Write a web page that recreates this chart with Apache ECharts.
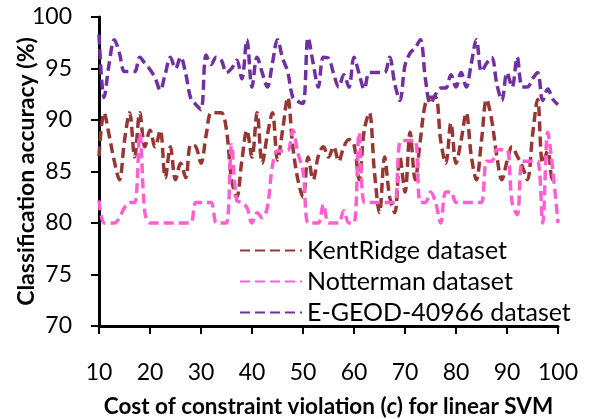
<!DOCTYPE html>
<html>
<head>
<meta charset="utf-8">
<script src="https://cdn.jsdelivr.net/npm/echarts@6/dist/echarts.min.js"></script>
<style>html,body{margin:0;padding:0;background:#fff}#c{width:589px;height:419px}</style>
</head>
<body>
<div id="c"></div>
<script>
const xValues = [10,11,12,13,14,15,16,17,18,19,20,21,22,23,24,25,26,27,28,29,30,31,32,33,34,35,36,37,38,39,40,41,42,43,44,45,46,47,48,49,50,51,52,53,54,55,56,57,58,59,60,61,62,63,64,65,66,67,68,69,70,71,72,73,74,75,76,77,78,79,80,81,82,83,84,85,86,87,88,89,90,91,92,93,94,95,96,97,98,99,100];
const kentRidge = [86.5,90.7,88.5,86.0,84.2,88.0,90.7,86.4,90.7,87.4,89.0,87.4,89.0,84.4,87.4,84.2,85.8,84.4,87.6,87.4,85.8,88.5,90.7,90.7,90.7,89.0,84.2,82.5,86.0,89.0,86.4,90.7,85.8,88.5,90.7,86.1,89.0,92.2,87.4,84.2,82.5,86.4,84.2,86.5,87.4,86.4,87.4,86.0,87.4,88.1,87.6,84.2,89.0,90.7,85.0,81.0,86.4,82.5,81.0,86.4,83.0,88.8,84.2,88.0,91.6,92.2,92.2,88.0,85.8,89.7,85.8,88.0,90.7,86.5,84.2,88.0,92.0,90.0,86.5,84.2,86.0,87.4,86.5,85.5,84.2,88.5,92.0,85.8,87.0,84.2,84.2];
const notterman = [82.2,80.0,80.0,80.0,80.5,81.5,82.0,82.0,88.7,81.0,80.0,80.0,80.0,80.0,80.0,80.0,80.0,80.0,80.0,82.0,82.0,82.0,82.0,80.0,80.0,80.0,87.6,82.2,82.0,81.5,80.0,81.0,80.5,81.5,85.5,87.0,87.0,87.0,89.0,86.8,85.0,80.0,80.0,80.0,81.8,80.0,80.0,80.0,81.2,80.0,80.0,88.8,82.0,82.0,82.0,82.0,82.0,82.0,82.0,87.9,88.0,88.0,88.0,82.0,82.0,83.0,82.0,80.0,83.0,83.0,82.0,82.0,82.0,82.0,82.0,82.0,86.0,86.0,87.1,87.1,87.1,82.0,80.8,86.0,86.0,86.0,86.0,80.0,88.8,85.0,80.0];
const egeod = [98.3,92.2,95.5,97.8,96.5,94.7,94.7,94.7,96.1,95.5,94.9,94.1,92.9,94.5,96.1,95.0,96.1,94.5,92.1,91.5,91.0,96.3,95.4,96.1,95.8,94.6,95.0,95.8,94.0,97.8,93.2,96.1,94.6,93.2,95.5,97.8,96.0,94.7,92.2,91.8,91.6,98.0,95.5,93.2,96.1,96.0,94.5,93.2,94.4,93.2,96.1,94.5,93.0,94.6,94.6,94.6,94.6,96.1,93.5,91.9,95.3,96.5,97.0,97.8,94.0,91.6,92.5,93.1,93.1,94.4,93.2,94.6,93.2,95.5,97.8,94.7,95.5,96.1,93.5,91.9,94.6,93.2,96.1,93.2,93.2,94.0,94.6,91.9,93.0,92.0,91.5];
const seriesNames = ['KentRidge dataset','Notterman dataset','E-GEOD-40966 dataset'];
const seriesColors = ['#953735','#FF5FD0','#7030A0'];
const yTicks = [70,75,80,85,90,95,100];
const xTicks = [10,20,30,40,50,60,70,80,90,100];

const font = 'Lato, "Open Sans", sans-serif';
const allData = [kentRidge, notterman, egeod];
const chart = echarts.init(document.getElementById('c'), null, {renderer:'canvas'});
chart.setOption({
  animation: false,
  backgroundColor: '#fff',
  grid: {left: 99, right: 31, top: 17, bottom: 93, containLabel: false, outerBoundsMode: 'none'},
  xAxis: {
    type: 'value', min: xTicks[0], max: xTicks[xTicks.length-1], interval: 10,
    name: 'Cost of constraint violation ({i|c}) for linear SVM',
    nameLocation: 'middle', nameGap: 69,
    nameTextStyle: {fontFamily: font, fontWeight: 'bold', fontSize: 22.5, color: '#000',
      rich: {i: {fontFamily: font, fontWeight: 'bold', fontStyle: 'italic', fontSize: 22.5, color: '#000'}}},
    axisLine: {lineStyle: {color: '#000', width: 3}},
    axisTick: {show: true, length: 8, lineStyle: {color: '#000', width: 2}},
    axisLabel: {fontFamily: font, fontSize: 23, color: '#000', margin: 35},
    splitLine: {show: false}
  },
  yAxis: {
    type: 'value', min: yTicks[0], max: yTicks[yTicks.length-1], interval: 5,
    name: 'Classification accuracy (%)',
    nameLocation: 'middle', nameGap: 61, nameRotate: 90, nameMoveOverlap: false,
    nameTextStyle: {fontFamily: font, fontWeight: 'bold', fontSize: 23, color: '#000'},
    axisLine: {show: true, lineStyle: {color: '#000', width: 3}},
    axisTick: {show: true, length: 8, lineStyle: {color: '#000', width: 2}},
    axisLabel: {fontFamily: font, fontSize: 23, color: '#000', margin: 27},
    splitLine: {show: false}
  },
  legend: {
    orient: 'vertical', left: 234, top: 233,
    itemWidth: 62, itemHeight: 14, itemGap: 6,
    itemStyle: {opacity: 0},
    textStyle: {fontFamily: font, fontSize: 25, color: '#000'},
    data: seriesNames
  },
  series: seriesNames.map((n, i) => ({
    name: n, type: 'line', smooth: 0.35, symbol: 'none',
    data: xValues.map((x, j) => [x, allData[i][j]]),
    lineStyle: {color: seriesColors[i], width: 3.5, type: [10, 5]},
    itemStyle: {color: seriesColors[i]}
  }))
});
</script>
</body>
</html>
